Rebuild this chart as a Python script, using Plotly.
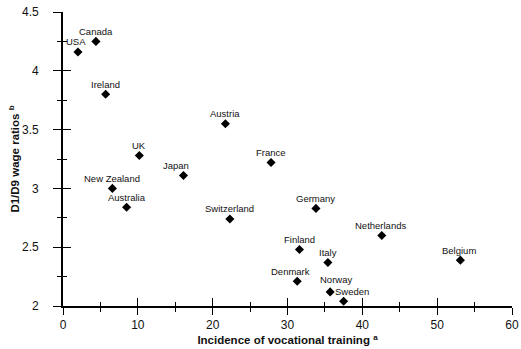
import plotly.graph_objects as go

countries = ["USA", "Canada", "Ireland", "UK", "New Zealand", "Australia", "Austria",
             "France", "Japan", "Switzerland", "Germany", "Netherlands", "Finland",
             "Italy", "Belgium", "Denmark", "Norway", "Sweden"]
training = [2.0, 4.4, 5.7, 10.2, 6.6, 8.5, 21.7, 27.8, 16.1, 22.3, 33.8, 42.6, 31.6,
            35.4, 53.1, 31.3, 35.7, 37.5]
wage_ratio = [4.16, 4.25, 3.80, 3.28, 3.00, 2.84, 3.55, 3.22, 3.11, 2.74, 2.83, 2.60,
              2.48, 2.37, 2.39, 2.21, 2.12, 2.04]

x_ticks = [0, 10, 20, 30, 40, 50, 60]
y_ticks = [2, 2.5, 3, 3.5, 4, 4.5]
y_ticklabels = ["2", "2.5", "3", "3.5", "4", "4.5"]

# label offsets (pixels) relative to marker
label_shift = {
    "USA": (-2, 10), "Canada": (0, 10), "Ireland": (0, 10), "UK": (0, 10),
    "New Zealand": (0, 10), "Australia": (0, 10), "Austria": (0, 10),
    "France": (0, 10), "Japan": (-7, 10), "Switzerland": (0, 10),
    "Germany": (0, 10), "Netherlands": (-1, 10), "Finland": (0, 10),
    "Italy": (0, 10), "Belgium": (-1, 10), "Denmark": (-7, 10),
    "Norway": (6, 12), "Sweden": (8, 10),
}

label_font = dict(family="Liberation Sans, Arial", size=9.5, color="#111")
tick_font = dict(family="Liberation Sans, Arial", size=12, color="#111")
title_font = dict(family="Liberation Sans, Arial", size=11.5, color="#111")

fig = go.Figure()
fig.add_trace(go.Scatter(
    x=training, y=wage_ratio, mode="markers",
    marker=dict(symbol="diamond", size=7, color="black"),
    cliponaxis=False, showlegend=False, hoverinfo="text", text=countries,
))
# transparent copy on the secondary (tick-only) axes so they are drawn
fig.add_trace(go.Scatter(
    x=training, y=wage_ratio, mode="markers", xaxis="x2", yaxis="y2",
    marker=dict(size=1, opacity=0), showlegend=False, hoverinfo="skip",
))

for c, xv, yv in zip(countries, training, wage_ratio):
    dx, dy = label_shift[c]
    fig.add_annotation(x=xv, y=yv, text=c, showarrow=False, xshift=dx, yshift=dy,
                       font=label_font, yanchor="middle", xanchor="center")

fig.update_layout(
    width=521, height=349,
    margin=dict(l=63, r=9, t=12, b=43, autoexpand=False),
    paper_bgcolor="white", plot_bgcolor="white",
    xaxis=dict(range=[0, 60], tickvals=x_ticks, ticktext=[str(v) for v in x_ticks],
               automargin=False,
               showgrid=False, zeroline=False, showline=True, linecolor="black",
               linewidth=2, ticks="outside", ticklen=7, tickwidth=1.3, tickcolor="black",
               minor=dict(ticks="outside", dtick=5, tick0=0, ticklen=4, tickwidth=1.3,
                          tickcolor="black", showgrid=False),
               tickfont=tick_font,
               title=dict(text="<b>Incidence of vocational training <sup>a</sup></b>",
                          font=title_font, standoff=5)),
    yaxis=dict(range=[2, 4.5], tickvals=y_ticks, ticktext=y_ticklabels,
               automargin=False, ticklabelstandoff=12,
               showgrid=False, zeroline=False, showline=True, linecolor="black",
               linewidth=1.6, ticks="outside", ticklen=8, tickwidth=1.3, tickcolor="black",
               minor=dict(ticks="outside", dtick=0.25, tick0=2, ticklen=4, tickwidth=1.3,
                          tickcolor="black", showgrid=False),
               tickfont=tick_font,
               title=dict(text="<b>D1/D9 wage ratios <sup>b</sup></b>",
                          font=title_font, standoff=0)),
    xaxis2=dict(range=[0, 60], overlaying="x", side="bottom", showgrid=False,
                automargin=False,
                zeroline=False, showline=False, showticklabels=False,
                tickvals=x_ticks, ticks="inside", ticklen=8, tickwidth=1.3,
                tickcolor="black",
                minor=dict(ticks="inside", dtick=5, tick0=0, ticklen=4, tickwidth=1.3,
                           tickcolor="black", showgrid=False)),
    yaxis2=dict(range=[2, 4.5], overlaying="y", side="left", showgrid=False,
                automargin=False,
                zeroline=False, showline=False, showticklabels=False,
                tickvals=y_ticks, ticks="inside", ticklen=8, tickwidth=1.3,
                tickcolor="black",
                minor=dict(ticks="inside", dtick=0.25, tick0=2, ticklen=4, tickwidth=1.3,
                           tickcolor="black", showgrid=False)),
)

fig.write_html("out.html")
